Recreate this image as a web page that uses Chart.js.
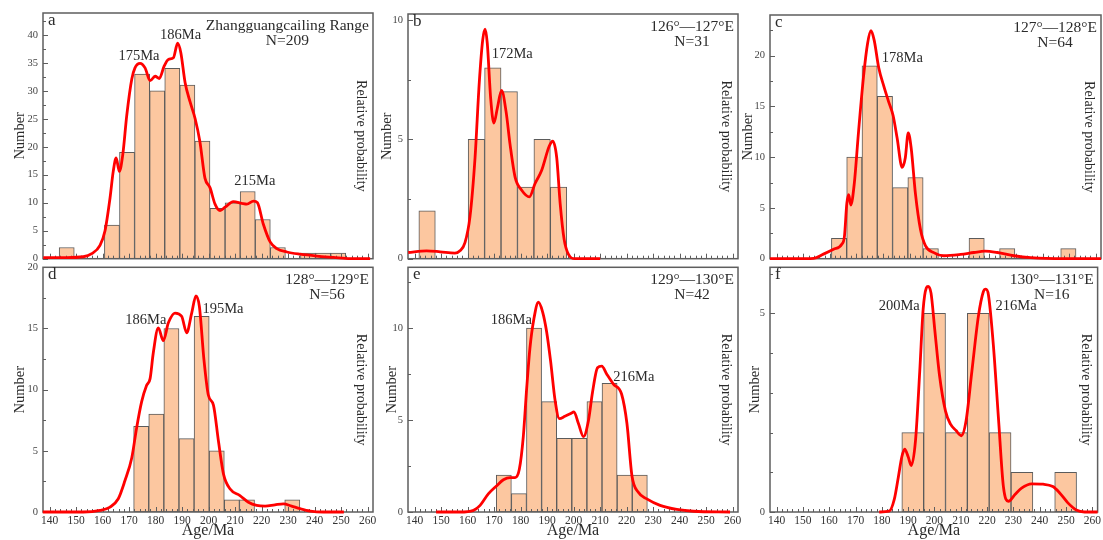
<!DOCTYPE html>
<html>
<head>
<meta charset="utf-8">
<script src="https://cdn.jsdelivr.net/npm/chart.js@4.4.1/dist/chart.umd.min.js"></script>
<style>
  body { margin: 0; background: #fff; width: 1103px; height: 540px; position: relative; overflow: hidden; }
  canvas { position: absolute; }
</style>
</head>
<body>
<script>
// ---- shared axis values
const X_MIN = 137.5, X_MAX = 262
const X_TICKS = [140, 150, 160, 170, 180, 190, 200, 210, 220, 230, 240, 250, 260]

// ---- a: Zhangguangcailing Range
const countsA = [2, 0, 0, 6, 19, 33, 30, 34, 31, 21, 9, 10, 12, 7, 2, 0, 1, 1, 1]
const curveAx = [137.6, 146.4, 152.7, 155.9, 159, 160.9, 162.8, 164, 165.1, 166.3, 167.6, 169.1, 171, 172.2, 174.1, 176, 177.9, 179.8, 181.4, 183.2, 184.8, 186.7, 188.3, 189.5, 191.1, 193, 194.9, 196.7, 198.6, 200.5, 202.4, 204.3, 206.2, 209.3, 212.5, 214.4, 216.9, 218.4, 220.6, 223.2, 225.7, 229.5, 234.5, 240.8, 247.1, 253.4, 260.9]
const curveAy = [0.2, 0.2, 0.35, 0.9, 2.4, 5.0, 10.9, 15.6, 18.0, 15.6, 18.6, 25.6, 32.1, 34.1, 34.9, 34.1, 31.8, 32.6, 32.2, 34.4, 35.6, 35.9, 38.5, 36.8, 31.5, 28, 25, 20.9, 14.4, 12.7, 9.75, 8.6, 9.2, 10.2, 9.9, 9.75, 10.3, 10, 6.2, 3.0, 1.8, 1.2, 0.8, 0.47, 0.23, 0, 0]
const yTicksA = [0, 5, 10, 15, 20, 25, 30, 35, 40]

// ---- b: 126-127E
const countsB = [2, 0, 0, 5, 8, 7, 3, 5, 3]
const curveBx = [137.6, 144.5, 149.6, 155.2, 157.1, 159, 160.9, 162.8, 164.4, 165.7, 166.6, 167.4, 168.7, 169.9, 171.2, 172.8, 174.5, 176, 177.9, 180.4, 183.3, 185.4, 187.9, 190.8, 192.1, 193.6, 194.9, 196.4, 198, 200.5, 210]
const curveBy = [0.26, 0.33, 0.29, 0.23, 0.33, 0.67, 1.77, 4.24, 7.4, 9.18, 9.62, 9.04, 6.7, 5.68, 6.3, 7.05, 6.16, 4.79, 3.42, 2.87, 2.59, 3.14, 3.69, 4.72, 4.92, 4.24, 2.32, 0.81, 0.19, 0, 0]
const yTicksB = [0, 5, 10]

// ---- c: 127-128E
const countsC = [2, 10, 19, 16, 7, 8, 1, 0, 0, 2, 0, 1, 0, 0, 0, 1]
const curveCx = [137.5, 147.6, 153.9, 157.6, 161.4, 164.5, 165.5, 166.4, 167.1, 167.9, 169.2, 170.8, 172.7, 174.2, 175.5, 176.7, 178.4, 180.3, 182.2, 183.8, 185.3, 187.2, 188.4, 189.5, 190.6, 192.2, 194.1, 196, 199.1, 202.9, 209.2, 214.2, 218.3, 223, 229.3, 235.6, 248.2, 262]
const curveCy = [0, 0, 0.03, 0.45, 0.93, 1.42, 2.2, 5.44, 6.3, 5.28, 7.4, 12.5, 18, 21.2, 22.45, 21.5, 18.8, 17, 15.4, 14.1, 11.9, 9, 9.95, 12.4, 10.9, 6.4, 2.87, 1.26, 0.6, 0.29, 0.42, 0.61, 0.74, 0.61, 0.29, 0.1, 0, 0]
const yTicksC = [0, 5, 10, 15, 20]

// ---- d: 128-129E
const countsD = [7, 8, 15, 6, 16, 5, 1, 1, 0, 0, 1]
const curveDx = [137.4, 152.7, 159, 162.8, 165.9, 168.4, 171, 172.8, 174.7, 176.6, 177.9, 179.1, 181, 182.9, 184.8, 187.3, 189.8, 191.7, 193.6, 195.2, 196.5, 198.2, 199.9, 201.8, 203.7, 205.6, 208.1, 211.8, 215, 218.1, 221.3, 225, 228.2, 231.3, 234.5, 238.3, 243.3, 251]
const curveDy = [0, 0, 0.13, 0.4, 1.08, 2.55, 4.44, 6.85, 9.0, 10.35, 10.9, 13.0, 15.05, 14, 15.46, 16.26, 16, 14.65, 16.26, 17.66, 16.8, 12.5, 9.54, 8.74, 5.78, 3.1, 1.88, 1.34, 0.8, 0.54, 0.48, 0.59, 0.67, 0.48, 0.27, 0.08, 0, 0]
const yTicksD = [0, 5, 10, 15, 20]

// ---- e: 129-130E
const countsE = [2, 1, 10, 6, 4, 4, 6, 7, 2, 2]
const curveEx = [148.1, 157.1, 162.2, 164.7, 167.8, 171, 173.5, 176, 177.9, 179.5, 181, 182.3, 183.5, 185, 186.7, 188.3, 189.8, 191.3, 193, 194.6, 196.7, 198.9, 200.1, 201.8, 203.7, 205.6, 207.1, 209, 210.6, 212.5, 215, 218.1, 220.1, 222, 224.4, 227.6, 232.6, 238.9, 245.2, 259]
const curveEy = [0, 0, 0.09, 0.36, 0.98, 1.43, 1.75, 1.87, 1.87, 2.32, 4.1, 6.77, 8.9, 10.5, 11.4, 10.87, 9.8, 8.2, 6.06, 5.08, 5.2, 5.35, 5.44, 4.81, 4.1, 4.99, 6.5, 7.84, 7.93, 7.49, 6.95, 6.4, 4.81, 1.96, 1.07, 0.71, 0.36, 0.14, 0.04, 0]
const yTicksE = [0, 5, 10]

// ---- f: 130-131E
const countsF = [2, 5, 2, 5, 2, 1, 0, 1]
const curveFx = [179, 182.8, 184.7, 186.3, 187.6, 188.7, 190, 191.2, 192.8, 194.4, 195.7, 196.9, 197.6, 198.7, 200.1, 201.9, 204.2, 206.1, 208.2, 210.2, 212, 214.2, 216.7, 218.6, 219.5, 220.5, 222.4, 224.3, 226.2, 228.1, 230.6, 233.1, 236.9, 241.3, 245, 247.6, 250.7, 253.9, 257, 262]
const curveFy = [0, 0.02, 0.31, 0.89, 1.39, 1.58, 1.39, 1.17, 1.8, 3.53, 5.1, 5.64, 5.68, 5.51, 4.6, 3.45, 2.54, 2.21, 2.05, 1.92, 2.29, 3.53, 4.93, 5.55, 5.61, 5.47, 4.19, 2.38, 0.64, 0.27, 0.44, 0.6, 0.71, 0.7, 0.64, 0.48, 0.23, 0.05, 0, 0]
const yTicksF = [0, 5]

// ---- peak labels [text, age, value]
const peaksA = [['175Ma', 173.7, 36.1], ['186Ma', 189.4, 40], ['215Ma', 217.4, 13.9]]
const peaksB = [['172Ma', 176.8, 8.56]]
const peaksC = [['178Ma', 187.3, 19.7]]
const peaksD = [['186Ma', 176.3, 15.7], ['195Ma', 205.4, 16.6]]
const peaksE = [['186Ma', 176.5, 10.4], ['216Ma', 222.7, 7.34]]
const peaksF = [['200Ma', 186.6, 5.18], ['216Ma', 231, 5.18]]

const SERIF = 'Liberation Serif'
const TEXT = '#2b2b2b'
const FRAME = '#5e5e5e'

const panels = [
  { letter: 'a', title: 'Zhangguangcailing Range', n: 'N=209', counts: countsA, binStart: 143.6, binWidth: 5.69, cx: curveAx, cy: curveAy, yMax: 43.9, yTicks: yTicksA, yMinor: 2.5, peaks: peaksA,
    box: { x: 0, y: 0, w: 380, h: 270 }, padTop: 13, padRight: 7, yw: 43, xh: 7, bottom: false, titlePad: 11.6 },
  { letter: 'b', title: '126°—127°E', n: 'N=31', counts: countsB, binStart: 141.6, binWidth: 6.2, cx: curveBx, cy: curveBy, yMax: 10.25, yTicks: yTicksB, yMinor: 2.5, peaks: peaksB,
    box: { x: 370, y: 0, w: 375, h: 270 }, padTop: 14, padRight: 7, yw: 38, xh: 7, bottom: false, titlePad: 8.3 },
  { letter: 'c', title: '127°—128°E', n: 'N=64', counts: countsC, binStart: 160.6, binWidth: 5.75, cx: curveCx, cy: curveCy, yMax: 24, yTicks: yTicksC, yMinor: 2.5, peaks: peaksC,
    box: { x: 735, y: 0, w: 368, h: 270 }, padTop: 15, padRight: 2, yw: 35, xh: 7, bottom: false, titlePad: 4.3 },
  { letter: 'd', title: '128°—129°E', n: 'N=56', counts: countsD, binStart: 171.7, binWidth: 5.7, cx: curveDx, cy: curveDy, yMax: 20, yTicks: yTicksD, yMinor: 2.5, peaks: peaksD,
    box: { x: 0, y: 256, w: 380, h: 284 }, padTop: 8, padRight: 7, yw: 43, xh: 28, bottom: true, titlePad: 11.6 },
  { letter: 'e', title: '129°—130°E', n: 'N=42', counts: countsE, binStart: 170.8, binWidth: 5.7, cx: curveEx, cy: curveEy, yMax: 13.3, yTicks: yTicksE, yMinor: 2.5, peaks: peaksE,
    box: { x: 370, y: 256, w: 375, h: 284 }, padTop: 8, padRight: 7, yw: 38, xh: 28, bottom: true, titlePad: 13.6 },
  { letter: 'f', title: '130°—131°E', n: 'N=16', counts: countsF, binStart: 187.6, binWidth: 8.3, cx: curveFx, cy: curveFy, yMax: 6.16, yTicks: yTicksF, yMinor: 1, peaks: peaksF,
    box: { x: 735, y: 256, w: 368, h: 284 }, padTop: 8, padRight: 2, yw: 35, xh: 28, bottom: true, titlePad: 11.6 },
]

// frame, inward ticks and the panel texts
function makeDecor(p) {
  return {
    id: 'decor',
    afterDatasetDraw(chart, args) {
      if (args.meta.type !== 'bar') return
      const { ctx, chartArea: a, scales: { x, y } } = chart
      ctx.save()
      ctx.strokeStyle = FRAME
      ctx.lineWidth = 1
      ctx.beginPath()
      for (let v = 140; v <= 260; v += 2) {
        const px = Math.round(x.getPixelForValue(v)) + 0.5
        const len = v % 10 === 0 ? 5 : 3
        ctx.moveTo(px, a.bottom)
        ctx.lineTo(px, a.bottom - len)
      }
      for (let v = 0; v <= p.yMax; v += p.yMinor) {
        const py = Math.round(y.getPixelForValue(v)) + 0.5
        const len = p.yTicks.includes(v) ? 5 : 3
        ctx.moveTo(a.left, py)
        ctx.lineTo(a.left + len, py)
      }
      ctx.stroke()
      ctx.lineWidth = 1.5
      ctx.strokeRect(a.left, a.top, a.width, a.height)
      ctx.restore()
    },
    afterDraw(chart) {
      const { ctx, chartArea: a, scales: { x, y } } = chart
      ctx.save()
      ctx.fillStyle = TEXT
      ctx.textBaseline = 'alphabetic'

      ctx.font = `17px "${SERIF}"`
      ctx.textAlign = 'left'
      ctx.fillText(p.letter, a.left + 5, a.top + 12)

      ctx.font = `15.5px "${SERIF}"`
      ctx.textAlign = 'right'
      ctx.fillText(p.title, a.right - 4, a.top + 16.5)
      const w = ctx.measureText(p.title).width
      ctx.textAlign = 'center'
      ctx.fillText(p.n, a.right - 4 - w / 2, a.top + 32)

      ctx.font = `14.5px "${SERIF}"`
      ctx.textBaseline = 'middle'
      p.peaks.forEach(([t, age, v]) => {
        ctx.fillText(t, x.getPixelForValue(age), y.getPixelForValue(v))
      })

      ctx.font = `14px "${SERIF}"`
      ctx.translate(a.right - 12, (a.top + a.bottom) / 2)
      ctx.rotate(Math.PI / 2)
      ctx.fillText('Relative probability', 0, 0)
      ctx.restore()
    }
  }
}

function makeChart(p) {
  const cv = document.createElement('canvas')
  cv.width = p.box.w
  cv.height = p.box.h
  cv.style.left = p.box.x + 'px'
  cv.style.top = p.box.y + 'px'
  document.body.appendChild(cv)

  const bars = p.counts.map((c, i) => ({ x: p.binStart + (i + 0.5) * p.binWidth, y: c }))
  const curve = p.cx.map((age, i) => ({ x: age, y: p.cy[i] }))

  new Chart(cv, {
    type: 'bar',
    data: {
      datasets: [
        {
          type: 'bar',
          data: bars,
          backgroundColor: 'rgb(252,199,160)',
          borderColor: '#5b5b5b',
          borderWidth: 1,
          borderSkipped: false,
          barPercentage: 1,
          categoryPercentage: 1,
          order: 2,
        },
        {
          type: 'line',
          data: curve,
          borderColor: '#ff0000',
          borderWidth: 2.8,
          pointRadius: 0,
          cubicInterpolationMode: 'monotone',
          clip: false,
          order: 1,
        }
      ]
    },
    options: {
      responsive: false,
      animation: false,
      events: [],
      layout: { padding: { top: p.padTop, right: p.padRight, left: 0, bottom: 0 } },
      plugins: { legend: { display: false }, tooltip: { enabled: false } },
      scales: {
        x: {
          type: 'linear',
          min: X_MIN,
          max: X_MAX,
          offset: false,
          grid: { display: false, drawTicks: false },
          border: { display: false },
          afterBuildTicks: s => { s.ticks = X_TICKS.map(v => ({ value: v })) },
          afterFit: s => { s.height = p.xh },
          ticks: { display: p.bottom, padding: 2, maxRotation: 0, autoSkip: false, color: '#333', font: { family: SERIF, size: 11.5 } },
          title: { display: p.bottom, text: 'Age/Ma', color: TEXT, padding: 0, font: { family: SERIF, size: 16 } }
        },
        y: {
          min: 0,
          max: p.yMax,
          grid: { display: false, drawTicks: false },
          border: { display: false },
          afterBuildTicks: s => { s.ticks = p.yTicks.map(v => ({ value: v })) },
          afterFit: s => { s.width = p.yw },
          ticks: { padding: 5, color: '#444', font: { family: SERIF, size: 10.5 } },
          title: { display: true, text: 'Number', color: TEXT, padding: { top: p.titlePad, bottom: 0 }, font: { family: SERIF, size: 14.5 } }
        }
      }
    },
    plugins: [makeDecor(p)]
  })
}

panels.forEach(makeChart)
</script>
</body>
</html>
